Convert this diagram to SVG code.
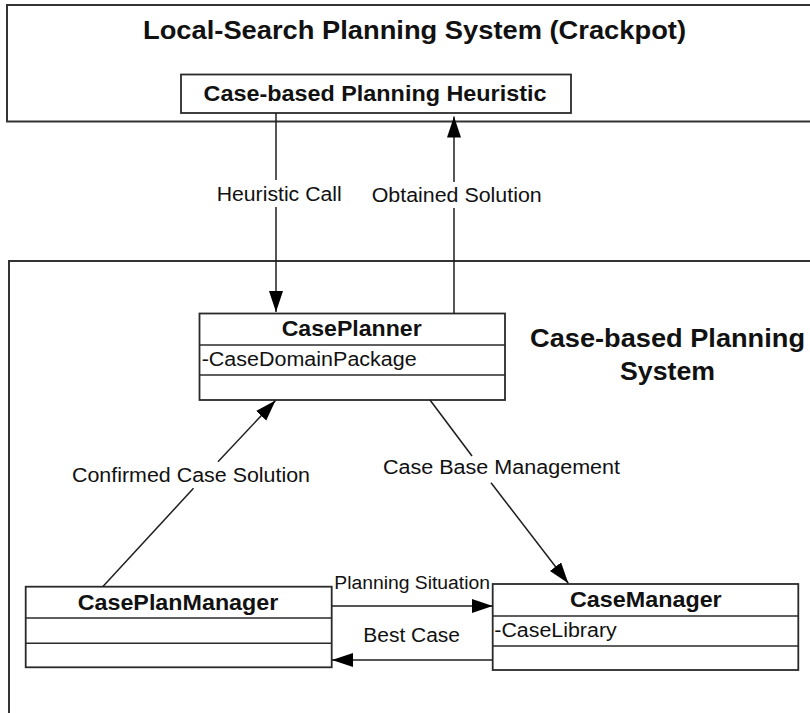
<svg xmlns="http://www.w3.org/2000/svg" width="810" height="713" viewBox="0 0 810 713">
  <style>
    .frame { fill: #ffffff; stroke: #333333; stroke-width: 2; }
    .box { fill: #ffffff; stroke: #2a2a2a; stroke-width: 1.8; }
    .sep { stroke: #2a2a2a; stroke-width: 1.6; }
    .link { fill: none; stroke: #1e1e1e; stroke-width: 1.5; }
    .bold { font-family: "Liberation Sans", Arial, sans-serif; font-weight: bold; fill: #111111; }
    .reg { font-family: "Liberation Sans", Arial, sans-serif; fill: #111111; }
  </style>
  <defs>
    <marker id="arrow" markerUnits="userSpaceOnUse" markerWidth="22" markerHeight="15" refX="21" refY="7" orient="auto">
      <path d="M0,0 L21,7 L0,14 Z" fill="#000000"/>
    </marker>
  </defs>

  <rect width="810" height="713" fill="#ffffff"/>

  <!-- Outer system: local search planner -->
  <g id="crackpot-system">
    <rect class="frame" x="7" y="5" width="820" height="116.5"/>
    <text class="bold" x="143" y="38.5" font-size="25.5" textLength="543" lengthAdjust="spacingAndGlyphs">Local-Search Planning System (Crackpot)</text>
  </g>

  <g id="heuristic">
    <rect class="box" x="181" y="74.5" width="390" height="38.5"/>
    <text class="bold" x="203.5" y="100.5" font-size="21.5" textLength="343" lengthAdjust="spacingAndGlyphs">Case-based Planning Heuristic</text>
  </g>

  <!-- Outer system: case-based planner -->
  <g id="cbp-system">
    <rect class="frame" x="9" y="261" width="820" height="470"/>
    <text class="bold" x="530" y="346.5" font-size="25.5" textLength="275" lengthAdjust="spacingAndGlyphs">Case-based Planning</text>
    <text class="bold" x="620" y="379.5" font-size="25.5" textLength="95" lengthAdjust="spacingAndGlyphs">System</text>
  </g>

  <g id="caseplanner">
    <rect class="box" x="199.5" y="313.5" width="305.5" height="86.5"/>
    <line class="sep" x1="199.5" y1="345" x2="505" y2="345"/>
    <line class="sep" x1="199.5" y1="375" x2="505" y2="375"/>
    <text class="bold" x="281.7" y="336" font-size="21.5" textLength="140" lengthAdjust="spacingAndGlyphs">CasePlanner</text>
    <text class="reg" x="201.7" y="366" font-size="19.5" textLength="215" lengthAdjust="spacingAndGlyphs">-CaseDomainPackage</text>
  </g>

  <g id="caseplanmanager">
    <rect class="box" x="25.7" y="586.7" width="306" height="80.6"/>
    <line class="sep" x1="25.7" y1="618" x2="331.7" y2="618"/>
    <line class="sep" x1="25.7" y1="643.3" x2="331.7" y2="643.3"/>
    <text class="bold" x="77.7" y="610" font-size="21.5" textLength="200.6" lengthAdjust="spacingAndGlyphs">CasePlanManager</text>
  </g>

  <g id="casemanager">
    <rect class="box" x="492.7" y="584" width="305.6" height="86"/>
    <line class="sep" x1="492.7" y1="616" x2="798.3" y2="616"/>
    <line class="sep" x1="492.7" y1="646" x2="798.3" y2="646"/>
    <text class="bold" x="570" y="606.5" font-size="21.5" textLength="151.7" lengthAdjust="spacingAndGlyphs">CaseManager</text>
    <text class="reg" x="494.3" y="637" font-size="19.5" textLength="122.4" lengthAdjust="spacingAndGlyphs">-CaseLibrary</text>
  </g>

  <g id="connectors">
    <!-- Heuristic Call -->
    <line class="link" x1="276" y1="113" x2="276" y2="180"/>
    <line class="link" x1="276" y1="207" x2="276" y2="312" marker-end="url(#arrow)"/>
    <text class="reg" x="216.7" y="200.5" font-size="19.5" textLength="125" lengthAdjust="spacingAndGlyphs">Heuristic Call</text>

    <!-- Obtained Solution -->
    <line class="link" x1="454" y1="313.5" x2="454" y2="208"/>
    <line class="link" x1="454" y1="182" x2="454" y2="116.5" marker-end="url(#arrow)"/>
    <text class="reg" x="371.7" y="202" font-size="19.5" textLength="170" lengthAdjust="spacingAndGlyphs">Obtained Solution</text>

    <!-- Confirmed Case Solution -->
    <line class="link" x1="102.7" y1="586.7" x2="193.5" y2="488.3"/>
    <line class="link" x1="218" y1="461.7" x2="275.5" y2="400.5" marker-end="url(#arrow)"/>
    <text class="reg" x="72" y="481.5" font-size="19.5" textLength="238" lengthAdjust="spacingAndGlyphs">Confirmed Case Solution</text>

    <!-- Case Base Management -->
    <line class="link" x1="430" y1="400" x2="472" y2="456"/>
    <line class="link" x1="491" y1="482.7" x2="568.3" y2="583.3" marker-end="url(#arrow)"/>
    <text class="reg" x="383" y="473.5" font-size="19.5" textLength="237" lengthAdjust="spacingAndGlyphs">Case Base Management</text>

    <!-- Planning Situation -->
    <line class="link" x1="331.7" y1="606" x2="492.7" y2="606" marker-end="url(#arrow)"/>
    <text class="reg" x="334.3" y="588.5" font-size="18" textLength="155.7" lengthAdjust="spacingAndGlyphs">Planning Situation</text>

    <!-- Best Case -->
    <line class="link" x1="492.7" y1="660" x2="332" y2="660" marker-end="url(#arrow)"/>
    <text class="reg" x="363.3" y="642" font-size="19.5" textLength="96.7" lengthAdjust="spacingAndGlyphs">Best Case</text>
  </g>
</svg>
